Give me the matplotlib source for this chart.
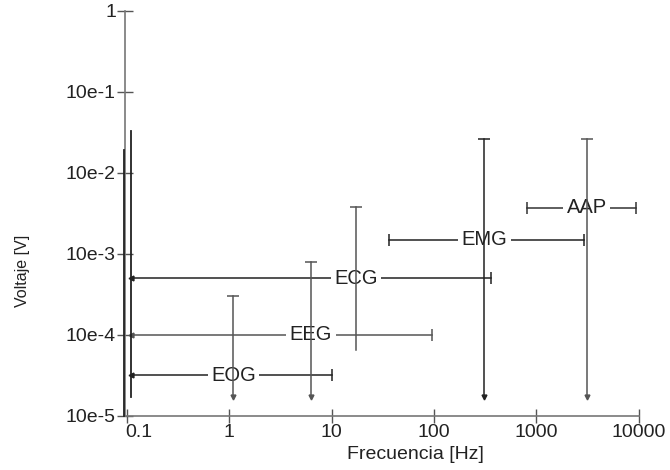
import matplotlib
matplotlib.use('Agg')
import matplotlib.pyplot as plt
import matplotlib.transforms as mtransforms

plt.rcParams['font.family'] = ['Liberation Sans', 'DejaVu Sans']

# señales biológicas: rango de frecuencia (horizontal) y de voltaje (vertical)
senales = ['EOG', 'EEG', 'ECG', 'EMG', 'AAP']
f_min = [0.11, 0.11, 0.11, 36, 800]
f_max = [10, 95, 360, 2900, 9300]
v_linea = [3.2e-5, 1e-4, 5e-4, 1.5e-3, 3.7e-3]
f_linea = [1.1, 6.3, 17.3, 310, 3100]
v_min = [1.7e-5, 1.7e-5, 6.5e-5, 1.7e-5, 1.7e-5]
v_max = [3e-4, 8e-4, 3.8e-3, 0.026, 0.026]
flecha_izq = [True, True, True, False, False]
flecha_abajo = [True, True, False, True, True]

# dos trazos verticales junto al eje
extra_f = [0.095, 0.11]
extra_vmin = [1e-5, 1.7e-5]
extra_vmax = [0.019, 0.033]

xticks = [0.1, 1, 10, 100, 1000, 10000]
xlabels = ['0.1', '1', '10', '100', '1000', '10000']
yticks = [1e-5, 1e-4, 1e-3, 1e-2, 1e-1, 1]
ylabels = ['10e-5', '10e-4', '10e-3', '10e-2', '10e-1', '1']

col_h = ['#222222', '#555555', '#222222', '#222222', '#333333']
col_v = ['#555555', '#555555', '#555555', '#222222', '#555555']

fig = plt.figure(figsize=(6.7, 4.7), dpi=100)
ax = fig.add_axes([0.1866, 0.1149, 0.767, 0.8617])
ax.set_xscale('log')
ax.set_yscale('log')
ax.set_xlim(0.0965, 10000)
ax.set_ylim(1e-5, 1)

for i, s in enumerate(senales):
    # horizontal
    ax.plot([f_min[i], f_max[i]], [v_linea[i], v_linea[i]], color=col_h[i], lw=1.1, zorder=1)
    ax.plot([f_max[i]], [v_linea[i]], marker='|', ms=9, mew=1.1, color=col_h[i], zorder=1)
    if flecha_izq[i]:
        ax.plot([f_min[i]], [v_linea[i]], marker='<', ms=3.5, color=col_h[i], zorder=1)
    else:
        ax.plot([f_min[i]], [v_linea[i]], marker='|', ms=9, mew=1.1, color=col_h[i], zorder=1)
    # etiqueta
    ax.text(f_linea[i], v_linea[i], s, fontsize=14.5, ha='center', va='center', color='#222222',
            zorder=2, bbox=dict(facecolor='white', edgecolor='none', pad=2.5))
    # vertical
    ax.plot([f_linea[i], f_linea[i]], [v_min[i], v_max[i]], color=col_v[i], lw=1.1, zorder=3)
    ax.plot([f_linea[i]], [v_max[i]], marker='_', ms=9, mew=1.1, color=col_v[i], zorder=3)
    if flecha_abajo[i]:
        ax.plot([f_linea[i]], [v_min[i]], marker='v', ms=3.5, color=col_v[i], zorder=3)

for i in range(len(extra_f)):
    ax.plot([extra_f[i], extra_f[i]], [extra_vmin[i], extra_vmax[i]], color='#222222', lw=1.3,
            zorder=3, clip_on=False)

for side in ['top', 'right']:
    ax.spines[side].set_visible(False)
for side in ['left', 'bottom']:
    ax.spines[side].set_color('#777777')
    ax.spines[side].set_linewidth(1.2)

ax.set_xticks(xticks)
ax.set_xticklabels(xlabels)
ax.set_yticks(yticks)
ax.set_yticklabels(ylabels)
ax.minorticks_off()
ax.tick_params(axis='x', direction='inout', length=10, width=1, color='#555555',
               labelsize=14, labelcolor='#222222', pad=1)
ax.tick_params(axis='y', direction='inout', length=11, width=1, color='#555555',
               labelsize=14, labelcolor='#222222', pad=1)

# la etiqueta 0.1 va algo desplazada a la derecha
lab01 = ax.get_xticklabels()[0]
lab01.set_transform(lab01.get_transform() + mtransforms.ScaledTranslation(12 / 100, 0, fig.dpi_scale_trans))

ax.set_xlabel('Frecuencia [Hz]', fontsize=14, color='#222222')
ax.xaxis.set_label_coords(0.566, -0.075)
ax.set_ylabel('Voltaje [V]', fontsize=11.5, color='#222222')
ax.yaxis.set_label_coords(-0.184, 0.358)

fig.savefig('out.png', dpi=100, facecolor='white')
